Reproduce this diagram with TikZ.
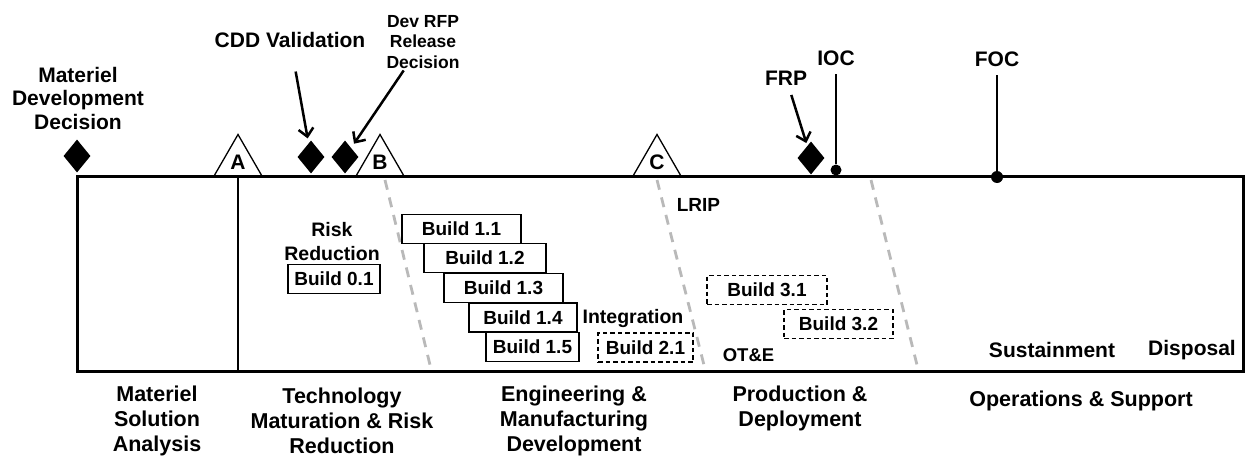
\documentclass[tikz,border=0pt]{standalone}
\usepackage{fontspec}
\setmainfont{Liberation Sans}
\usetikzlibrary{shapes.geometric,arrows.meta}

\begin{document}
\begin{tikzpicture}[
    x=1pt, y=-1pt,
    lbl/.style={align=center, inner sep=0pt, font=\bfseries\fontsize{21}{23.5}\selectfont},
    note/.style={align=center, inner sep=0pt, font=\bfseries\fontsize{19.5}{24}\selectfont},
    phase/.style={align=center, inner sep=0pt, font=\bfseries\fontsize{21.5}{25}\selectfont},
    build/.style={draw, line width=1.3pt, minimum height=29pt, inner sep=0pt, font=\bfseries\fontsize{19}{22}\selectfont},
    plan/.style={build, dash pattern=on 4.5pt off 3pt},
    ms/.style={diamond, fill=black, minimum width=27pt, minimum height=33pt, inner sep=0pt},
    gate/.style={regular polygon, regular polygon sides=3, draw, fill=white, line width=1.3pt, minimum size=55pt, inner sep=0pt, font=\bfseries\fontsize{21}{21}\selectfont},
    dot/.style={circle, fill=black, minimum size=11pt, inner sep=0pt},
    arr/.style={-{Straight Barb[length=8pt,width=15pt]}, line width=2.5pt},
    stem/.style={line width=1.8pt},
    div/.style={gray!55, line width=2.8pt, dash pattern=on 10pt off 8pt}
]
\useasboundingbox (0,0) rectangle (1251,460);
\draw[line width=3pt] (77,176) rectangle (1243,371);
\draw[line width=1.5pt] (238,176) -- (238,371);
\draw[div] (385,180) -- (431,369);
\draw[div] (657,180) -- (705,369);
\draw[div] (871,180) -- (918,369);

\node[ms] (mdd) at (77,156) {};
\node[ms] (cdd) at (311,157) {};
\node[ms] (rfp) at (345,157) {};
\node[ms] (frp) at (811,158) {};
\node[gate] (ga) at (238,162) {A};
\node[gate] (gb) at (380,162) {B};
\node[gate] (gc) at (657,162) {C};
\node[dot] (iocdot) at (836,170) {};
\node[dot, minimum size=12pt] (focdot) at (997,177) {};

\node[lbl] (mddlbl) at (78,98) {Materiel\\Development\\Decision};
\node[lbl] (cddlbl) at (290,40) {CDD Validation};
\node[align=center, inner sep=0pt, font=\bfseries\fontsize{17.5}{20.5}\selectfont] (rfplbl) at (423,42) {Dev RFP\\Release\\Decision};
\node[lbl] (frplbl) at (786,78) {FRP};
\node[lbl] (ioclbl) at (836,58) {IOC};
\node[lbl] (foclbl) at (997,59) {FOC};

\draw[arr, shorten <=24pt, shorten >=5pt] (cddlbl) -- (cdd);
\draw[arr, shorten <=2pt, shorten >=5pt] (rfplbl) -- (rfp);
\draw[arr, shorten <=10pt, shorten >=3pt] (frplbl) -- (frp);
\draw[stem, shorten >=8pt] (iocdot) -- (ioclbl);
\draw[stem, shorten >=8pt] (focdot) -- (foclbl);

\node[note] (risk) at (332,242) {Risk\\Reduction};
\node[build, minimum width=92pt] (b01) at (334,279) {Build 0.1};
\node[build, minimum width=119pt] (b11) at (461.5,229) {Build 1.1};
\node[build, minimum width=122pt] (b12) at (485,258) {Build 1.2};
\node[build, minimum width=119pt] (b13) at (503.5,288) {Build 1.3};
\node[build, minimum width=108pt] (b14) at (523,317.5) {Build 1.4};
\node[build, minimum width=93pt] (b15) at (532.5,347) {Build 1.5};
\node[note] (integ) at (633,318) {Integration};
\node[plan, minimum width=95pt] (b21) at (645.5,347.5) {Build 2.1};
\node[inner sep=0pt, font=\bfseries\fontsize{19}{19}\selectfont] (lrip) at (698.5,205) {LRIP};
\node[plan, minimum width=120pt] (b31) at (767,290) {Build 3.1};
\node[plan, minimum width=109pt] (b32) at (838.5,324) {Build 3.2};
\node[inner sep=0pt, font=\bfseries\fontsize{18.5}{19}\selectfont] (ote) at (748.5,355.5) {OT\&E};
\node[lbl] (sust) at (1052,350) {Sustainment};
\node[lbl] (disp) at (1192,350) {Disposal};

\node[phase] (msa) at (157,421) {Materiel\\Solution\\Analysis};
\node[phase] (tmrr) at (342,421) {Technology\\Maturation \& Risk\\Reduction};
\node[phase] (emd) at (574,421) {Engineering \&\\Manufacturing\\Development};
\node[phase] (pd) at (800,408.5) {Production \&\\Deployment};
\node[phase] (os) at (1081,401) {Operations \& Support};
\end{tikzpicture}
\end{document}
